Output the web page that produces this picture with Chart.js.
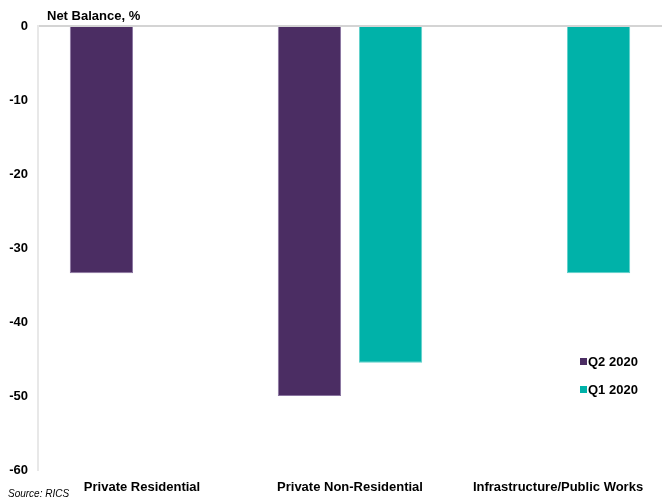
<!DOCTYPE html>
<html>
<head>
<meta charset="utf-8">
<script src="https://cdn.jsdelivr.net/npm/chart.js@4"></script>
<style>
  html, body { margin: 0; padding: 0; background: #fff; }
  #wrap { width: 663px; height: 502px; position: relative; }
</style>
</head>
<body>
<div id="wrap"><canvas id="rics"></canvas></div>
<script>
// data
const categories = ['Private Residential', 'Private Non-Residential', 'Infrastructure/Public Works'];
const q2Values = [-33.4, -50, null];
const q1Values = [null, -45.5, -33.4];
const seriesNames = ['Q2 2020', 'Q1 2020'];
const yTicks = [0, -10, -20, -30, -40, -50, -60];

const purple = '#4B2D63';
const teal = '#00B2A9';
const fontFam = '"Liberation Sans", Arial, sans-serif';

// title, source and legend drawn on the canvas
const extras = {
    id: 'extras',
    afterDraw(chart) {
        const c = chart.ctx;
        c.save();
        c.fillStyle = '#000';
        c.textBaseline = 'middle';
        c.textAlign = 'left';
        c.font = 'bold 13px ' + fontFam;
        c.fillText('Net Balance, %', 47, 16);

        c.font = 'italic 10px ' + fontFam;
        c.fillText('Source: RICS', 8, 494);

        const cols = [purple, teal];
        const ys = [362, 390];
        c.font = 'bold 13px ' + fontFam;
        seriesNames.forEach(function(name, i) {
            c.fillStyle = cols[i];
            c.fillRect(580, ys[i] - 4, 7, 7);
            c.fillStyle = '#000';
            c.fillText(name, 588, ys[i]);
        });
        c.restore();
    }
};

const ctx = document.getElementById('rics').getContext('2d');
const chart = new Chart(ctx, {
    type: 'bar',
    data: {
        labels: categories,
        datasets: [{
            label: seriesNames[0],
            data: q2Values,
            backgroundColor: purple,
            borderColor: '#8a74a0',
            borderWidth: 1,
            borderSkipped: 'start'
        }, {
            label: seriesNames[1],
            data: q1Values,
            backgroundColor: teal,
            borderColor: '#5fd0ca',
            borderWidth: 1,
            borderSkipped: 'start'
        }]
    },
    options: {
        responsive: true,
        maintainAspectRatio: false,
        animation: false,
        layout: { padding: { top: 26, right: 1, left: 0, bottom: 0 } },
        datasets: {
            bar: { categoryPercentage: 0.78, barPercentage: 0.78 }
        },
        plugins: {
            legend: { display: false },
            tooltip: { enabled: false }
        },
        scales: {
            x: {
                grid: { display: false, drawTicks: false },
                border: { display: false },
                ticks: {
                    color: '#000',
                    padding: 10,
                    maxRotation: 0,
                    font: { family: fontFam, size: 13, weight: 'bold' }
                },
                afterFit: function(scale) { scale.height = 32; }
            },
            y: {
                min: -60,
                max: 0,
                afterBuildTicks: function(scale) {
                    scale.ticks = yTicks.map(function(v) { return { value: v }; });
                },
                grid: {
                    drawTicks: false,
                    color: function(c) { return c.tick && c.tick.value === 0 ? '#d4d4d4' : 'rgba(0,0,0,0)'; },
                    lineWidth: 2
                },
                border: { display: true, color: '#e8e8e8', width: 2 },
                ticks: {
                    color: '#000',
                    padding: 10,
                    font: { family: fontFam, size: 13, weight: 'bold' }
                },
                afterFit: function(scale) { scale.width = 38; }
            }
        }
    },
    plugins: [extras]
});
</script>
</body>
</html>
